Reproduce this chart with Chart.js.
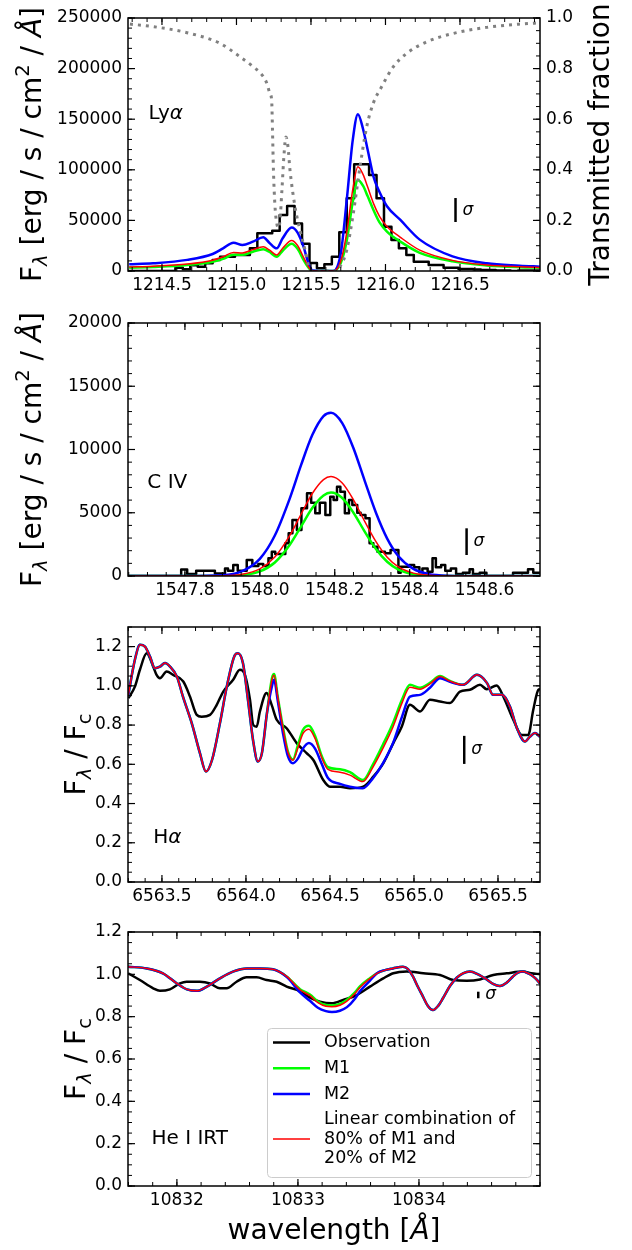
<!DOCTYPE html>
<html>
<head>
<meta charset="utf-8">
<script src="https://cdn.jsdelivr.net/npm/chart.js@4.4.1/dist/chart.umd.min.js"></script>
<style>
  body { margin: 0; background: #fff; }
  #wrap { position: relative; width: 632px; height: 1250px; }
  #wrap canvas { position: absolute; left: 0; }
</style>
</head>
<body>
<div id="wrap">
  <canvas id="lyaChart" width="632" height="305" style="top:0px"></canvas>
  <canvas id="civChart" width="632" height="305" style="top:305px"></canvas>
  <canvas id="haChart" width="632" height="305" style="top:610px"></canvas>
  <canvas id="heChart" width="632" height="335" style="top:915px"></canvas>
</div>
<script>
// ---- Ly alpha (flux in erg/s/cm2/A) ----
const lyaObsWave = [1214.24, 1214.29, 1214.34, 1214.39, 1214.44, 1214.49, 1214.54, 1214.59, 1214.64, 1214.69,
  1214.74, 1214.79, 1214.84, 1214.89, 1214.94, 1214.99, 1215.04, 1215.09, 1215.14, 1215.19,
  1215.24, 1215.29, 1215.34, 1215.39, 1215.44, 1215.49, 1215.54, 1215.59, 1215.64, 1215.69,
  1215.74, 1215.79, 1215.84, 1215.89, 1215.94, 1215.99, 1216.04, 1216.09, 1216.14, 1216.19,
  1216.24, 1216.29, 1216.34, 1216.39, 1216.44, 1216.49, 1216.54, 1216.59, 1216.64, 1216.69,
  1216.74, 1216.79, 1216.84, 1216.89, 1216.94, 1216.99, 1217.04];
const lyaObs = [0, 0, 0, 0, 0, 0, 0, 3300, 1700, 5600,
  4200, 7600, 10900, 14100, 14100, 15800, 15800, 22400, 37200, 37200,
  39800, 55300, 64200, 47000, 27000, 8000, 2700, 6600, 14100, 38200,
  71800, 105400, 105400, 94800, 71800, 43800, 30600, 22400, 15800, 9200,
  9200, 5900, 5900, 3300, 3300, 2000, 2000, 1500, 1000, 1000,
  500, 500, 0, 500, 500, 500, 500];
const lyaModelWave = [1214.28, 1214.44, 1214.67, 1214.84, 1214.91, 1214.98, 1215.04, 1215.11, 1215.18, 1215.22,
  1215.27, 1215.31, 1215.37, 1215.41, 1215.45, 1215.48, 1215.51, 1215.56, 1215.65, 1215.70,
  1215.74, 1215.78, 1215.815, 1215.85, 1215.88, 1215.92, 1215.96, 1216.01, 1216.10, 1216.23,
  1216.45, 1216.68, 1216.90, 1217.04];
const lyaM1 = [3300, 4000, 5900, 9200, 12000, 16000, 16000, 19100, 21500, 19000,
  14100, 20000, 27000, 22000, 11000, 4000, 0, 0, 0, 8000,
  30000, 68000, 90000, 84000, 74000, 60000, 48000, 39000, 29000, 18000,
  9500, 5500, 3800, 3300];
const lyaM2 = [6600, 7600, 11000, 16800, 22400, 28000, 25700, 29000, 33300, 28000,
  22400, 32300, 43000, 38000, 24000, 9200, 500, 0, 0, 17500,
  70000, 129000, 155000, 140000, 120000, 93000, 78000, 64000, 50400, 31000,
  14500, 7600, 5300, 4300];
const lyaMix = [4000, 4700, 6900, 10700, 14100, 18400, 17900, 21100, 23900, 20800,
  15800, 22500, 30200, 25200, 13600, 5000, 100, 0, 0, 9900,
  38000, 80200, 103000, 95200, 83200, 66600, 54000, 44000, 33300, 20600,
  10500, 5900, 4100, 3500];
const lyaTransWave = [1214.285, 1214.44, 1214.668, 1214.889, 1215.023, 1215.113, 1215.178, 1215.205, 1215.225, 1215.236,
  1215.242, 1215.248, 1215.258, 1215.270, 1215.282, 1215.292, 1215.305, 1215.319, 1215.332, 1215.346,
  1215.359, 1215.393, 1215.426, 1215.460, 1215.487, 1215.507, 1215.668, 1215.695, 1215.740, 1215.784,
  1215.829, 1215.874, 1215.918, 1215.974, 1216.052, 1216.142, 1216.277, 1216.455, 1216.679, 1216.903,
  1217.037];
const lyaTrans = [0.976, 0.966, 0.942, 0.900, 0.847, 0.807, 0.770, 0.740, 0.700, 0.676,
  0.550, 0.400, 0.260, 0.190, 0.170, 0.200, 0.320, 0.460, 0.530, 0.490,
  0.400, 0.254, 0.162, 0.083, 0.012, 0.0, 0.0, 0.017, 0.083, 0.228,
  0.412, 0.570, 0.663, 0.728, 0.807, 0.860, 0.906, 0.939, 0.963, 0.976,
  0.981];
const lyaSigmaWave = 1216.47;
const lyaSigma = [48400, 72100];
const lyaTicks = [1214.5, 1215.0, 1215.5, 1216.0, 1216.5];
const lyaFluxTicks = [0, 50000, 100000, 150000, 200000, 250000];
const transTicks = [0, 0.2, 0.4, 0.6, 0.8, 1.0];

// ---- C IV ----
const civObsWave = [1547.647, 1547.790, 1547.806, 1547.830, 1547.880, 1547.907, 1547.915, 1547.929, 1547.941, 1547.965,
  1547.980, 1547.996, 1548.009, 1548.023, 1548.032, 1548.041, 1548.068, 1548.077, 1548.087, 1548.099,
  1548.111, 1548.126, 1548.137, 1548.148, 1548.160, 1548.175, 1548.188, 1548.197, 1548.206, 1548.215,
  1548.227, 1548.238, 1548.247, 1548.260, 1548.269, 1548.282, 1548.293, 1548.303, 1548.314, 1548.334,
  1548.349, 1548.370, 1548.376, 1548.399, 1548.412, 1548.426, 1548.434, 1548.448, 1548.461, 1548.470,
  1548.484, 1548.495, 1548.510, 1548.524, 1548.542, 1548.560, 1548.569, 1548.587, 1548.605, 1548.676,
  1548.716, 1548.730, 1548.760];
const civObs = [0, 520, 160, 420, 200, 600, 420, 870, 420, 1265,
  790, 950, 790, 1400, 1920, 1740, 2580, 3370, 4430, 3640,
  5350, 6540, 5800, 4960, 5800, 4820, 6270, 6000, 7060, 6660,
  4960, 6000, 5610, 5000, 4820, 4560, 2580, 2320, 1920, 1790,
  2055, 265, 740, 870, 690, 300, 600, 340, 1400, 690,
  870, 420, 600, 150, 265, 530, 150, 265, 0, 265,
  525, 265, 265];
const civModelWave = [1547.65, 1547.80, 1547.90, 1547.95, 1548.00, 1548.04, 1548.08, 1548.11, 1548.14, 1548.17,
  1548.19, 1548.22, 1548.25, 1548.28, 1548.31, 1548.34, 1548.37, 1548.41, 1548.45, 1548.50,
  1548.60, 1548.75];
const civM1 = [0, 0, 8, 64, 360, 1070, 2470, 3910, 5370, 6370,
  6600, 6170, 5000, 3510, 2140, 1125, 513, 145, 31, 0,
  0, 0];
const civM2 = [0, 1, 66, 350, 1360, 3200, 6140, 8760, 11140, 12640,
  12900, 12090, 10100, 7520, 5000, 2960, 1565, 560, 163, 26,
  0, 0];
const civMix = [0, 0, 20, 121, 560, 1496, 3204, 4880, 6524, 7624,
  7860, 7354, 6020, 4312, 2712, 1492, 723, 228, 58, 5,
  0, 0];
const civSigmaWave = 1548.552;
const civSigma = [1660, 3770];
const civTicks = [1547.8, 1548.0, 1548.2, 1548.4, 1548.6];
const civFluxTicks = [0, 5000, 10000, 15000, 20000];

// ---- H alpha (normalised) ----
const haObsWave = [6563.300, 6563.339, 6563.369, 6563.409, 6563.448, 6563.468, 6563.488, 6563.528, 6563.567, 6563.627,
  6563.667, 6563.707, 6563.736, 6563.786, 6563.826, 6563.865, 6563.924, 6563.964, 6563.994, 6564.024,
  6564.043, 6564.064, 6564.083, 6564.123, 6564.153, 6564.183, 6564.242, 6564.302, 6564.361, 6564.401,
  6564.460, 6564.500, 6564.560, 6564.619, 6564.698, 6564.758, 6564.817, 6564.877, 6564.927, 6564.976,
  6565.036, 6565.095, 6565.155, 6565.214, 6565.274, 6565.333, 6565.393, 6565.433, 6565.492, 6565.532,
  6565.591, 6565.641, 6565.680, 6565.710, 6565.740, 6565.750];
const haObs = [0.937, 0.996, 1.082, 1.166, 1.098, 1.056, 1.039, 1.073, 1.056, 1.022,
  0.945, 0.852, 0.843, 0.852, 0.903, 0.971, 1.031, 1.082, 1.056, 0.929,
  0.801, 0.792, 0.869, 0.963, 0.903, 0.827, 0.784, 0.708, 0.657, 0.622,
  0.520, 0.486, 0.486, 0.478, 0.486, 0.537, 0.605, 0.708, 0.792, 0.903,
  0.869, 0.929, 0.920, 0.912, 0.971, 0.980, 1.005, 0.983, 1.002, 0.945,
  0.827, 0.750, 0.750, 0.878, 0.980, 0.983];
const haModelWave = [6563.298, 6563.339, 6563.369, 6563.399, 6563.429, 6563.458, 6563.488, 6563.518, 6563.548, 6563.589,
  6563.625, 6563.679, 6563.726, 6563.762, 6563.798, 6563.845, 6563.887, 6563.935, 6563.952, 6563.982,
  6564.012, 6564.042, 6564.071, 6564.095, 6564.125, 6564.155, 6564.167, 6564.190, 6564.220, 6564.250,
  6564.280, 6564.310, 6564.339, 6564.375, 6564.411, 6564.452, 6564.488, 6564.560, 6564.619, 6564.696,
  6564.756, 6564.815, 6564.875, 6564.929, 6564.976, 6565.036, 6565.095, 6565.155, 6565.214, 6565.292,
  6565.375, 6565.435, 6565.470, 6565.524, 6565.571, 6565.613, 6565.661, 6565.690, 6565.720, 6565.750];
const haM1 = [0.945, 1.133, 1.209, 1.200, 1.149, 1.090, 1.098, 1.116, 1.098, 1.047,
  0.945, 0.805, 0.657, 0.563, 0.622, 0.809, 1.000, 1.158, 1.166, 1.116,
  0.929, 0.724, 0.614, 0.657, 0.861, 1.040, 1.060, 0.940, 0.790, 0.665,
  0.625, 0.700, 0.775, 0.796, 0.745, 0.640, 0.585, 0.575, 0.560, 0.520,
  0.600, 0.700, 0.810, 0.930, 1.005, 0.990, 1.015, 1.050, 1.025, 1.005,
  1.056, 1.014, 0.954, 0.954, 0.895, 0.784, 0.716, 0.741, 0.759, 0.741];
const haM2 = [0.945, 1.133, 1.209, 1.200, 1.149, 1.090, 1.098, 1.116, 1.098, 1.047,
  0.945, 0.805, 0.657, 0.563, 0.622, 0.809, 1.000, 1.158, 1.166, 1.116,
  0.929, 0.724, 0.614, 0.657, 0.861, 1.000, 1.031, 0.920, 0.760, 0.640,
  0.605, 0.630, 0.680, 0.708, 0.680, 0.600, 0.530, 0.500, 0.486, 0.478,
  0.529, 0.605, 0.708, 0.843, 0.945, 0.954, 0.990, 1.039, 1.020, 1.005,
  1.056, 1.014, 0.954, 0.954, 0.895, 0.784, 0.716, 0.741, 0.759, 0.741];
const haMix = [0.945, 1.133, 1.209, 1.200, 1.149, 1.090, 1.098, 1.116, 1.098, 1.047,
  0.945, 0.805, 0.657, 0.563, 0.622, 0.809, 1.000, 1.158, 1.166, 1.116,
  0.929, 0.724, 0.614, 0.657, 0.861, 1.032, 1.054, 0.936, 0.784, 0.660,
  0.621, 0.686, 0.756, 0.779, 0.732, 0.632, 0.574, 0.560, 0.545, 0.512,
  0.586, 0.681, 0.790, 0.913, 0.993, 0.983, 1.010, 1.048, 1.024, 1.005,
  1.056, 1.014, 0.954, 0.954, 0.895, 0.784, 0.716, 0.741, 0.759, 0.741];
const haSigmaWave = 6565.299;
const haSigma = [0.602, 0.745];
const haTicks = [6563.5, 6564.0, 6564.5, 6565.0, 6565.5];
const normTicks = [0, 0.2, 0.4, 0.6, 0.8, 1.0, 1.2];

// ---- He I IRT (normalised) ----
const heObsWave = [10831.597, 10831.694, 10831.804, 10831.860, 10831.942, 10832.025, 10832.080, 10832.190, 10832.273, 10832.355,
  10832.411, 10832.493, 10832.576, 10832.659, 10832.741, 10832.824, 10832.907, 10833.017, 10833.099, 10833.182,
  10833.279, 10833.374, 10833.485, 10833.595, 10833.705, 10833.788, 10833.898, 10834.036, 10834.174, 10834.284,
  10834.394, 10834.504, 10834.614, 10834.725, 10834.860, 10834.926, 10835.000];
const heObs = [1.005, 0.973, 0.934, 0.922, 0.929, 0.957, 0.965, 0.965, 0.957, 0.934,
  0.934, 0.965, 0.986, 0.986, 0.973, 0.965, 0.942, 0.920, 0.890, 0.871,
  0.863, 0.879, 0.902, 0.942, 0.981, 1.005, 1.013, 1.005, 0.997, 0.973,
  0.970, 0.976, 0.997, 1.005, 1.013, 1.005, 1.001];
const heModelWave = [10831.595, 10831.752, 10831.884, 10832.000, 10832.083, 10832.165, 10832.248, 10832.355, 10832.463, 10832.579,
  10832.686, 10832.793, 10832.909, 10833.017, 10833.099, 10833.165, 10833.231, 10833.281, 10833.347, 10833.405,
  10833.471, 10833.512, 10833.595, 10833.653, 10833.719, 10833.785, 10833.868, 10833.909, 10833.950, 10833.992,
  10834.033, 10834.074, 10834.116, 10834.157, 10834.198, 10834.256, 10834.314, 10834.364, 10834.421, 10834.488,
  10834.562, 10834.612, 10834.669, 10834.727, 10834.777, 10834.818, 10834.860, 10834.901, 10834.934, 10834.967,
  10835.000];
const heM1 = [1.036, 1.028, 1.005, 0.957, 0.929, 0.922, 0.942, 0.981, 1.013, 1.028,
  1.028, 1.024, 0.989, 0.930, 0.905, 0.872, 0.855, 0.853, 0.860, 0.880,
  0.915, 0.943, 0.982, 1.005, 1.020, 1.028, 1.036, 1.025, 0.990, 0.940,
  0.895, 0.850, 0.831, 0.850, 0.887, 0.945, 0.985, 1.005, 1.013, 1.000,
  0.975, 0.955, 0.945, 0.962, 0.990, 1.008, 1.013, 1.005, 0.995, 0.978,
  0.957];
const heM2 = [1.036, 1.028, 1.005, 0.957, 0.929, 0.922, 0.942, 0.981, 1.013, 1.028,
  1.028, 1.024, 0.987, 0.915, 0.875, 0.842, 0.826, 0.822, 0.828, 0.845,
  0.885, 0.920, 0.970, 1.005, 1.020, 1.028, 1.036, 1.025, 0.990, 0.940,
  0.895, 0.850, 0.831, 0.850, 0.887, 0.945, 0.985, 1.005, 1.013, 1.000,
  0.975, 0.955, 0.945, 0.962, 0.990, 1.008, 1.013, 1.005, 0.995, 0.978,
  0.957];
const heMix = [1.036, 1.028, 1.005, 0.957, 0.929, 0.922, 0.942, 0.981, 1.013, 1.028,
  1.028, 1.024, 0.989, 0.927, 0.899, 0.866, 0.849, 0.847, 0.854, 0.873,
  0.909, 0.938, 0.980, 1.005, 1.020, 1.028, 1.036, 1.025, 0.990, 0.940,
  0.895, 0.850, 0.831, 0.850, 0.887, 0.945, 0.985, 1.005, 1.013, 1.000,
  0.975, 0.955, 0.945, 0.962, 0.990, 1.008, 1.013, 1.005, 0.995, 0.978,
  0.957];
const heSigmaWave = 10834.49;
const heSigma = [0.887, 0.918];
const heTicks = [10832, 10833, 10834];

const FONT = "'DejaVu Sans', sans-serif";
const xy = (xs, ys) => xs.map((x, i) => ({ x: x, y: ys[i] }));

function steps(min, max, step) {
  const out = [];
  for (let n = Math.ceil(min / step - 1e-6); n * step <= max + 1e-9; n++) out.push(n * step);
  return out;
}

// text made of pieces: {t, italic, sub, sup}; rotated text reads bottom to top
function drawRich(ctx, parts, size, x, y, opt) {
  const fontOf = p => (p.italic ? 'italic ' : '') + ((p.sub || p.sup) ? size * 0.7 : size) + 'px ' + FONT;
  let total = 0;
  parts.forEach(p => { ctx.font = fontOf(p); total += ctx.measureText(p.t).width; });
  ctx.save();
  ctx.translate(x, y);
  if (opt.rotate) ctx.rotate(-Math.PI / 2);
  ctx.fillStyle = '#000';
  ctx.textAlign = 'left';
  ctx.textBaseline = 'alphabetic';
  let cx = opt.align === 'left' ? 0 : -total / 2;
  parts.forEach(p => {
    ctx.font = fontOf(p);
    ctx.fillText(p.t, cx, p.sub ? size * 0.2 : p.sup ? -size * 0.42 : 0);
    cx += ctx.measureText(p.t).width;
  });
  ctx.restore();
}

function drawLegend(chart) {
  const ctx = chart.ctx, a = chart.chartArea;
  const w = 264, h = 149;
  const x0 = a.right - 9 - w, y0 = a.bottom - 9 - h;
  ctx.save();
  ctx.fillStyle = 'rgba(255,255,255,0.8)';
  ctx.strokeStyle = '#cccccc';
  ctx.lineWidth = 1;
  ctx.beginPath();
  ctx.roundRect(x0 + 0.5, y0 + 0.5, w, h, 4);
  ctx.fill();
  ctx.stroke();
  ctx.font = '17.5px ' + FONT;
  ctx.textBaseline = 'middle';
  ctx.fillStyle = '#000';
  let top = y0 + 4.8;
  chart.data.datasets.filter(ds => ds.label).forEach(ds => {
    const lines = ds.label.split('\n');
    const mid = top + lines.length * 19.2 / 2;
    ctx.strokeStyle = ds.borderColor;
    ctx.lineWidth = ds.borderWidth;
    ctx.beginPath();
    ctx.moveTo(x0 + 6, mid);
    ctx.lineTo(x0 + 43, mid);
    ctx.stroke();
    lines.forEach((t, i) => ctx.fillText(t, x0 + 57, top + 9.6 + i * 19.2));
    top += lines.length * 19.2 + 6.6;
  });
  ctx.restore();
}

function axesPlugin(p) {
  return {
    id: 'axesFrame',
    afterDatasetsDraw(chart) {
      const ctx = chart.ctx, a = chart.chartArea;
      const sx = chart.scales.x, sy = chart.scales.y, sy1 = chart.scales.y1;
      ctx.save();
      ctx.strokeStyle = '#000';
      const seg = (x0, y0, x1, y1, w) => {
        ctx.lineWidth = w;
        ctx.beginPath();
        ctx.moveTo(x0, y0);
        ctx.lineTo(x1, y1);
        ctx.stroke();
      };
      // ticks point inwards on every side
      const xMarks = (vals, len, w) => vals.forEach(v => {
        const px = sx.getPixelForValue(v);
        seg(px, a.bottom, px, a.bottom - len, w);
        seg(px, a.top, px, a.top + len, w);
      });
      const yMarks = (scale, vals, len, w, onLeft, onRight) => vals.forEach(v => {
        const py = scale.getPixelForValue(v);
        if (onLeft) seg(a.left, py, a.left + len, py, w);
        if (onRight) seg(a.right, py, a.right - len, py, w);
      });
      xMarks(steps(sx.min, sx.max, p.xMinor), 4, 1);
      xMarks(p.xTicks, 7, 1.2);
      yMarks(sy, steps(sy.min, sy.max, p.yMinor), 4, 1, true, !sy1);
      yMarks(sy, p.yTicks, 7, 1.2, true, !sy1);
      if (sy1) {
        yMarks(sy1, steps(sy1.min, sy1.max, p.y1Minor), 4, 1, false, true);
        yMarks(sy1, p.y1Ticks, 7, 1.2, false, true);
      }
      ctx.lineWidth = 1.5;
      ctx.strokeRect(a.left, a.top, a.right - a.left, a.bottom - a.top);

      // tick labels
      ctx.fillStyle = '#000';
      ctx.font = '17px ' + FONT;
      ctx.textBaseline = 'middle';
      ctx.textAlign = 'center';
      p.xTicks.forEach(v => ctx.fillText(v.toFixed(p.xDigits), sx.getPixelForValue(v), a.bottom + 15));
      ctx.textAlign = 'right';
      p.yTicks.forEach(v => ctx.fillText(v.toFixed(p.yDigits), a.left - 6, sy.getPixelForValue(v)));
      if (sy1) {
        ctx.textAlign = 'left';
        p.y1Ticks.forEach(v => ctx.fillText(v.toFixed(1), a.right + 6, sy1.getPixelForValue(v)));
      }
      ctx.restore();
    },
    afterDraw(chart) {
      const ctx = chart.ctx, a = chart.chartArea;
      const sx = chart.scales.x, sy = chart.scales.y;
      const midY = (a.top + a.bottom) / 2;
      drawRich(ctx, p.yTitle, 28, p.yTitleX, midY, { rotate: true });
      if (p.y1Title) drawRich(ctx, p.y1Title, 28, 609, midY, { rotate: true });
      if (p.xTitle) drawRich(ctx, p.xTitle, 28, (a.left + a.right) / 2, a.bottom + 53, {});
      // line name inside the axes
      drawRich(ctx, p.name, 20, a.left + p.namePos[0] * (a.right - a.left),
        a.bottom - p.namePos[1] * (a.bottom - a.top), { align: 'left' });
      // sigma marker label
      const sgx = sx.getPixelForValue(p.sigmaWave) + 7;
      const sgy = (sy.getPixelForValue(p.sigma[0]) + sy.getPixelForValue(p.sigma[1])) / 2 + 4.5;
      drawRich(ctx, [{ t: 'σ', italic: true }], 17, sgx, sgy, { align: 'left' });
      if (p.legend) drawLegend(chart);
    }
  };
}

function lineSets(obsWave, obs, wave, m1, m2, mix, sigmaWave, sigma, histogram) {
  return [
    // histogram bins are given by their left edge
    { label: 'Observation', data: xy(obsWave, obs), borderColor: '#000000', borderWidth: 2.5, order: 4,
      stepped: histogram ? 'before' : false, cubicInterpolationMode: 'monotone' },
    { label: 'M1', data: xy(wave, m1), borderColor: '#00ff00', borderWidth: 2.5, order: 3, cubicInterpolationMode: 'monotone' },
    { label: 'M2', data: xy(wave, m2), borderColor: '#0000ff', borderWidth: 2.5, order: 2, cubicInterpolationMode: 'monotone' },
    { label: 'Linear combination of\n80% of M1 and\n20% of M2', data: xy(wave, mix), borderColor: '#ff0000',
      borderWidth: 1.5, order: 1, cubicInterpolationMode: 'monotone' },
    { data: xy([sigmaWave, sigmaWave], sigma), borderColor: '#000000', borderWidth: 2.5, order: 5 }
  ];
}

function spectrumChart(id, datasets, scales, padding, panel) {
  return new Chart(document.getElementById(id), {
    type: 'line',
    data: { datasets: datasets },
    options: {
      responsive: false,
      animation: false,
      devicePixelRatio: 1,
      layout: { padding: padding, autoPadding: false },
      scales: scales,
      elements: { point: { radius: 0 }, line: { borderJoinStyle: 'round', fill: false } },
      plugins: { legend: { display: false }, tooltip: { enabled: false } }
    },
    plugins: [axesPlugin(panel)]
  });
}

const fluxTitle = [{ t: 'F' }, { t: 'λ', sub: true, italic: true }, { t: ' [erg / s / cm' }, { t: '2', sup: true },
  { t: ' / ' }, { t: 'Å', italic: true }, { t: ']' }];
const normTitle = [{ t: 'F' }, { t: 'λ', sub: true, italic: true }, { t: ' / F' }, { t: 'c', sub: true }];

const lyaSets = lineSets(lyaObsWave, lyaObs, lyaModelWave, lyaM1, lyaM2, lyaMix, lyaSigmaWave, lyaSigma, true);
lyaSets.push({ data: xy(lyaTransWave, lyaTrans), yAxisID: 'y1', borderColor: '#808080', borderWidth: 3,
  borderDash: [3, 5], order: 0, cubicInterpolationMode: 'monotone' });

spectrumChart('lyaChart', lyaSets, {
  x: { type: 'linear', min: 1214.272, max: 1217.037, display: false },
  y: { min: 0, max: 250000, display: false },
  y1: { position: 'right', min: 0, max: 1, display: false }
}, { left: 128, right: 92, top: 18, bottom: 34 }, {
  xTicks: lyaTicks, xMinor: 0.1, xDigits: 1,
  yTicks: lyaFluxTicks, yMinor: 10000, yDigits: 0,
  y1Ticks: transTicks, y1Minor: 0.05,
  yTitle: fluxTitle, yTitleX: 41,
  y1Title: [{ t: 'Transmitted fraction' }],
  name: [{ t: 'Ly' }, { t: 'α', italic: true }], namePos: [0.05, 0.599],
  sigmaWave: lyaSigmaWave, sigma: lyaSigma
});

spectrumChart('civChart', lineSets(civObsWave, civObs, civModelWave, civM1, civM2, civMix, civSigmaWave, civSigma, true), {
  x: { type: 'linear', min: 1547.648, max: 1548.748, display: false },
  y: { min: 0, max: 20000, display: false }
}, { left: 128, right: 92, top: 18, bottom: 34 }, {
  xTicks: civTicks, xMinor: 0.05, xDigits: 1,
  yTicks: civFluxTicks, yMinor: 1000, yDigits: 0,
  yTitle: fluxTitle, yTitleX: 41,
  name: [{ t: 'C IV' }], namePos: [0.047, 0.347],
  sigmaWave: civSigmaWave, sigma: civSigma
});

spectrumChart('haChart', lineSets(haObsWave, haObs, haModelWave, haM1, haM2, haMix, haSigmaWave, haSigma, false), {
  x: { type: 'linear', min: 6563.298, max: 6565.75, display: false },
  y: { min: 0, max: 1.3, display: false }
}, { left: 128, right: 92, top: 17, bottom: 33 }, {
  xTicks: haTicks, xMinor: 0.1, xDigits: 1,
  yTicks: normTicks, yMinor: 0.05, yDigits: 1,
  yTitle: normTitle, yTitleX: 85,
  name: [{ t: 'H' }, { t: 'α', italic: true }], namePos: [0.061, 0.154],
  sigmaWave: haSigmaWave, sigma: haSigma
});

spectrumChart('heChart', lineSets(heObsWave, heObs, heModelWave, heM1, heM2, heMix, heSigmaWave, heSigma, false), {
  x: { type: 'linear', min: 10831.596, max: 10835.0, display: false },
  y: { min: 0, max: 1.2, display: false }
}, { left: 128, right: 92, top: 17, bottom: 64 }, {
  xTicks: heTicks, xMinor: 0.2, xDigits: 0,
  yTicks: normTicks, yMinor: 0.05, yDigits: 1,
  yTitle: normTitle, yTitleX: 85,
  xTitle: [{ t: 'wavelength [' }, { t: 'Å', italic: true }, { t: ']' }],
  name: [{ t: 'He I IRT' }], namePos: [0.057, 0.164],
  sigmaWave: heSigmaWave, sigma: heSigma, legend: true
});
</script>
</body>
</html>
